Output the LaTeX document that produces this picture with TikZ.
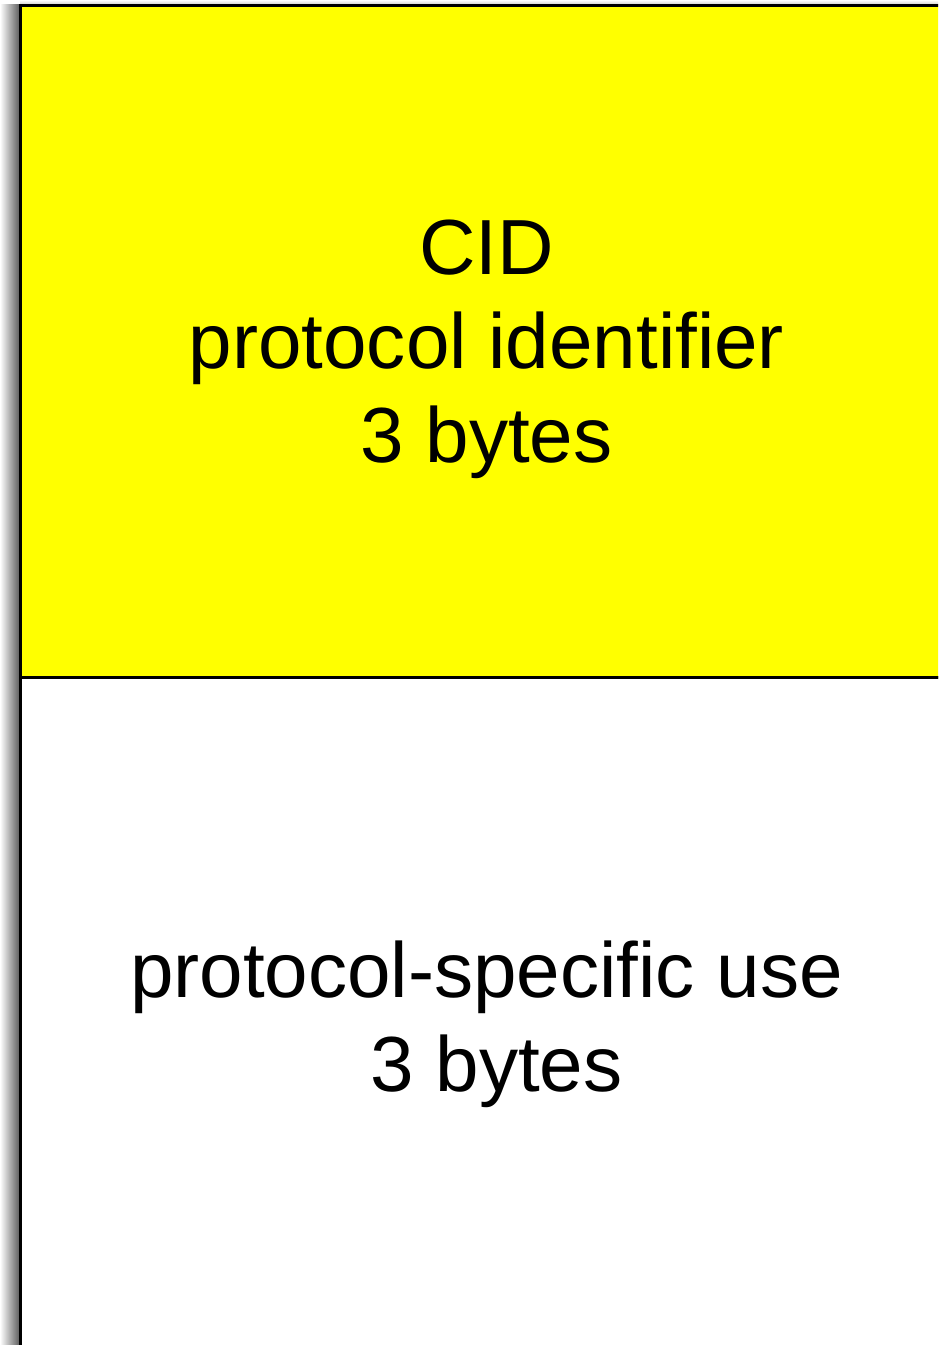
\documentclass[tikz,border=0pt]{standalone}
\usepackage{fontspec}
\setmainfont{Liberation Sans}
\usetikzlibrary{positioning}

\definecolor{cidyellow}{RGB}{255,255,0}

\begin{document}
\begin{tikzpicture}[x=0.02cm, y=-0.02cm, node distance=0pt]
    \tikzstyle{field}=[rectangle, draw=black, line width=1.7pt, outer sep=0pt,
        minimum width=18.66cm, align=center, text depth=0pt,
        font=\fontsize{44.5pt}{53.5pt}\selectfont]
    \tikzstyle{header field}=[field, fill=cidyellow, minimum height=13.46cm]
    \tikzstyle{payload field}=[field, fill=white, minimum height=13.52cm]

    \useasboundingbox (0,0) rectangle (938,1345);
    \clip (0,0) rectangle (938,1345);

    % Shadow along the left and top edges
    \shade[left color=white, right color=black!65] (0,5) rectangle (20,1345);
    \shade[top color=white, bottom color=black!20] (20,0) rectangle (938,5);

    % Draw the two fields of the word
    \node[header field] (cid) at (486.5,341.5)
        {CID\\protocol identifier\\3 bytes};
    \node[payload field, below=of cid] (use)
        {protocol-specific use\\\hspace*{0.4cm}3 bytes};
\end{tikzpicture}
\end{document}
